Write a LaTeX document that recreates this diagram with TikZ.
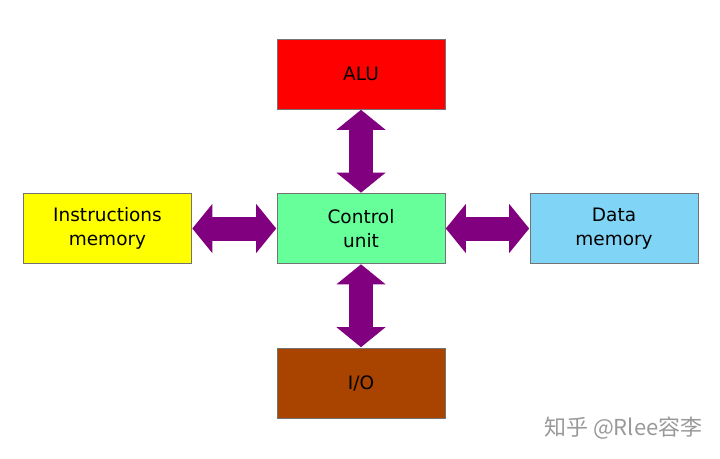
\documentclass[tikz,border=0pt]{standalone}
\usepackage{fontspec}
\setmainfont{DejaVu Sans}
\newfontfamily\cjk{Noto Sans CJK SC}
\usetikzlibrary{arrows.meta}
\definecolor{alu}{HTML}{FF0000}
\definecolor{ins}{HTML}{FFFF00}
\definecolor{ctl}{HTML}{66FF99}
\definecolor{dat}{HTML}{80D4F6}
\definecolor{io}{HTML}{A84400}
\definecolor{arr}{HTML}{800080}
\begin{document}
\begin{tikzpicture}[x=1pt,y=-1pt,
  box/.style={draw=black!55,line width=0.6pt,minimum width=168pt,minimum height=70pt,align=center,font=\fontsize{18.5}{24}\selectfont},
  dbl/.style={arr,line width=24pt,{Triangle[width=48pt,length=20pt]}-{Triangle[width=48pt,length=20pt]},shorten <=0.5pt,shorten >=0.5pt}]
\useasboundingbox (0,0) rectangle (720,458);
\node[box,fill=alu] (alu) at (361,74) {ALU};
\node[box,fill=ins] (ins) at (107.5,228.5) {Instructions\\memory};
\node[box,fill=ctl] (ctl) at (361,228.5) {Control\\unit};
\node[box,fill=dat] (dat) at (614,228.5) {Data\\memory};
\node[box,fill=io] (io) at (361,383) {I/O};
\draw[dbl] (alu.south) -- (ctl.north);
\draw[dbl] (ctl.south) -- (io.north);
\draw[dbl] (ins.east) -- (ctl.west);
\draw[dbl] (ctl.east) -- (dat.west);
\node[font=\cjk\fontsize{22}{26}\selectfont,text=black!40,anchor=east] (wm) at (706,428) {知乎 @Rlee容李};
\end{tikzpicture}
\end{document}
